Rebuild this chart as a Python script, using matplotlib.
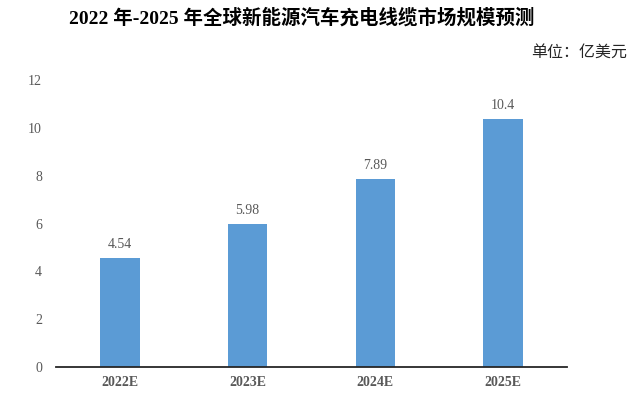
import matplotlib
matplotlib.use('Agg')
import matplotlib.pyplot as plt

plt.rcParams['font.family'] = ['Liberation Serif', 'Noto Sans CJK SC', 'DejaVu Sans']

# data
years = ['2022E', '2023E', '2024E', '2025E']
market_size = [4.54, 5.98, 7.89, 10.4]
value_labels = ['4.54', '5.98', '7.89', '10.4']

bar_color = '#5B9BD5'
text_gray = '#595959'

fig = plt.figure(figsize=(6.32, 3.99), dpi=100)
ax = fig.add_axes([0.0886, 0.081, 0.8085, 0.7173])

x = range(len(years))
bars = ax.bar(x, market_size, width=0.31, color=bar_color, zorder=2)

# value labels above each bar
for rect, lab in zip(bars, value_labels):
    ax.annotate(lab, (rect.get_x() + rect.get_width() / 2, rect.get_height()),
                xytext=(0, 5), textcoords='offset points',
                ha='center', va='bottom', fontsize=10, color=text_gray)

ax.set_xlim(-0.5, len(years) - 0.5)
ax.set_ylim(0, 12)
ax.set_yticks(range(0, 13, 2))
ax.set_xticks(list(x))
ax.set_xticklabels(years, fontsize=10, fontweight='bold', color=text_gray)
ax.tick_params(axis='y', length=0, pad=10, labelsize=10, labelcolor=text_gray)
ax.tick_params(axis='x', length=0, pad=7)

for side in ['top', 'right', 'left']:
    ax.spines[side].set_visible(False)
ax.spines['bottom'].set_color('#262626')
ax.spines['bottom'].set_linewidth(1.3)
ax.spines['bottom'].set_zorder(3)

fig.text(0.478, 0.955, '2022 年-2025 年全球新能源汽车充电线缆市场规模预测',
         ha='center', va='center', fontsize=14, fontweight='bold', color='black')
fig.text(0.992, 0.868, '单位：亿美元', ha='right', va='center',
         fontsize=11.5, color='#262626')

fig.savefig('out.png', dpi=100)
